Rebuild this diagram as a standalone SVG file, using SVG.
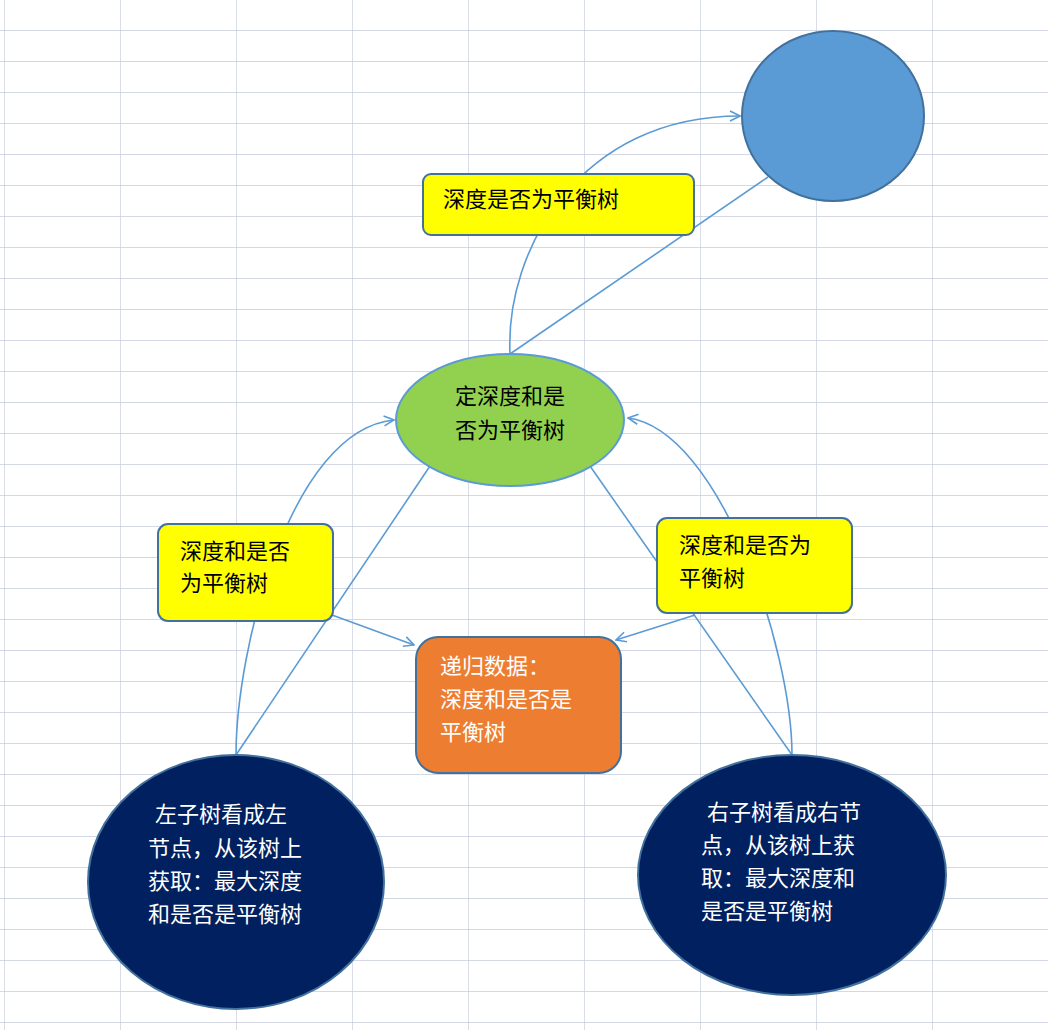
<svg xmlns="http://www.w3.org/2000/svg" width="1048" height="1030" viewBox="0 0 1048 1030">
<defs>
<style>
.g{stroke:#C5CBDB;stroke-width:1.3}
.c{fill:none;stroke:#5B9BD5;stroke-width:1.6}
.t{font-family:"Noto Sans CJK SC","Liberation Sans",sans-serif;font-size:22px}
.w{fill:#fff}
.y{fill:#FFFF00;stroke:#41719C;stroke-width:2}
</style>
<marker id="a" viewBox="0 0 12 12" refX="11" refY="6" markerWidth="12" markerHeight="12" markerUnits="userSpaceOnUse" orient="auto"><path d="M1,1 L11,6 L1,11" fill="none" stroke="#5B9BD5" stroke-width="1.6"/></marker>
<pattern id="grid" width="116" height="31" patternUnits="userSpaceOnUse" x="4" y="30"><path d="M0,0 V31 M0,0 H116" class="g" fill="none"/></pattern>
</defs>
<rect width="1048" height="1030" fill="#fff"/>
<rect width="1048" height="1030" fill="url(#grid)"/>
<g id="connectors">
<path class="c" d="M510,354 C505,250 580,116 740,116" marker-end="url(#a)"/>
<path class="c" d="M768,177 L510,354"/>
<path class="c" d="M236,755 C236,650 290,430 394,420" marker-end="url(#a)"/>
<path class="c" d="M430,466 L236,755"/>
<path class="c" d="M332,615 L414,645" marker-end="url(#a)"/>
<path class="c" d="M792,755 C792,650 720,430 628,418" marker-end="url(#a)"/>
<path class="c" d="M590,466 L792,755"/>
<path class="c" d="M695,615 L616,640" marker-end="url(#a)"/>
</g>
<g id="root"><ellipse cx="833" cy="116" rx="91" ry="85" fill="#5B9BD5" stroke="#41719C" stroke-width="2"/></g>
<g id="label-top"><rect class="y" x="423" y="174" width="271" height="61" rx="8"/><text class="t" x="443" y="207">深度是否为平衡树</text></g>
<g id="current"><ellipse cx="510" cy="420" rx="114" ry="66" fill="#92D050" stroke="#5B9BD5" stroke-width="2"/><text class="t" text-anchor="middle"><tspan x="510" y="404">定深度和是</tspan><tspan x="510" y="438">否为平衡树</tspan></text></g>
<g id="label-left"><rect class="y" x="158" y="524" width="175" height="97" rx="10"/><text class="t"><tspan x="180" y="559">深度和是否</tspan><tspan x="180" y="591">为平衡树</tspan></text></g>
<g id="label-right"><rect class="y" x="657" y="518" width="195" height="95" rx="10"/><text class="t"><tspan x="679" y="553">深度和是否为</tspan><tspan x="679" y="586">平衡树</tspan></text></g>
<g id="recursion"><rect x="416" y="637" width="205" height="136" rx="22" fill="#ED7D31" stroke="#41719C" stroke-width="2"/><text class="t w"><tspan x="440" y="674">递归数据：</tspan><tspan x="440" y="707">深度和是否是</tspan><tspan x="440" y="740">平衡树</tspan></text></g>
<g id="left-child"><ellipse cx="236" cy="882" rx="148" ry="127" fill="#002060" stroke="#41719C" stroke-width="2"/><text class="t w"><tspan x="155" y="822">左子树看成左</tspan><tspan x="148" y="856">节点，从该树上</tspan><tspan x="148" y="889">获取：最大深度</tspan><tspan x="148" y="922">和是否是平衡树</tspan></text></g>
<g id="right-child"><ellipse cx="792" cy="875" rx="154" ry="120" fill="#002060" stroke="#41719C" stroke-width="2"/><text class="t w"><tspan x="707" y="820">右子树看成右节</tspan><tspan x="701" y="853">点，从该树上获</tspan><tspan x="701" y="886">取：最大深度和</tspan><tspan x="701" y="919">是否是平衡树</tspan></text></g>
</svg>
